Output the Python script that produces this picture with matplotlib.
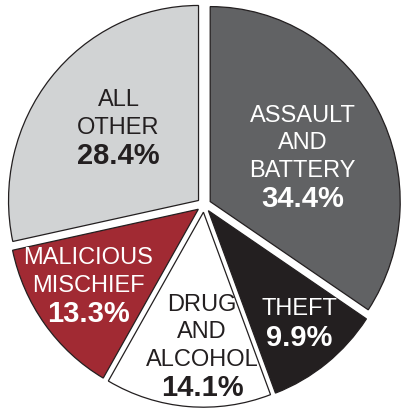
import numpy as np
import matplotlib.pyplot as plt

# Data
categories = ["ASSAULT\nAND\nBATTERY", "THEFT", "DRUG\nAND\nALCOHOL", "MALICIOUS\nMISCHIEF", "ALL\nOTHER"]
values = [34.4, 9.9, 14.1, 13.3, 28.4]
pct_labels = ["34.4%", "9.9%", "14.1%", "13.3%", "28.4%"]

colors = ["#616264", "#231f20", "#ffffff", "#a12a33", "#d1d3d4"]
text_colors = ["white", "white", "#231f20", "white", "#231f20"]
# centre of the percent text for each slice (pie units)
pct_pos = [(0.52, 0.03), (0.50, -0.68), (-0.01, -0.94), (-0.61, -0.56), (-0.45, 0.25)]

plt.rcParams["font.family"] = ["Liberation Sans", "DejaVu Sans"]

fig = plt.figure(figsize=(4.02, 4.08), dpi=100)
ax = fig.add_axes([0, 0, 1, 1])

wedges, _ = ax.pie(values, colors=colors, startangle=90, counterclock=False,
                   explode=[0.037] * len(values),
                   wedgeprops=dict(edgecolor="#231f20", linewidth=0.9))

Rx, Ry = 190.0, 195.0
cx, cy = 204.0, 205.0
line_gap = 27.5 / Ry
pct_gap = 28.5 / Ry

for name, pct, tc, (x, y) in zip(categories, pct_labels, text_colors, pct_pos):
    ax.text(x, y, pct, ha="center", va="center", color=tc,
            fontsize=21, fontweight="bold")
    lines = name.split("\n")
    for i, line in enumerate(reversed(lines)):
        ax.text(x, y + pct_gap + i * line_gap, line, ha="center", va="center",
                color=tc, fontsize=17)

ax.set_aspect("auto")
ax.set_xlim(-cx / Rx, (402 - cx) / Rx)
ax.set_ylim(-(408 - cy) / Ry, cy / Ry)
ax.axis("off")

fig.savefig("out.png", dpi=100)
